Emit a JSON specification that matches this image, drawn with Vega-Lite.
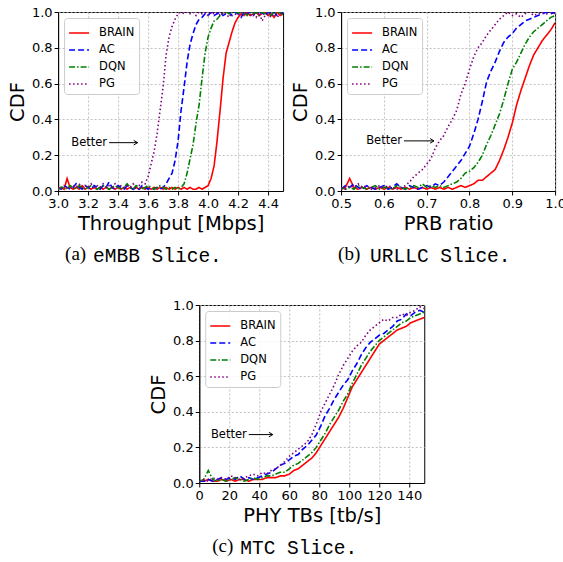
{
  "$schema": "https://vega.github.io/schema/vega-lite/v6.json",
  "background": "white",
  "padding": {"left": 6, "top": 5, "right": 0, "bottom": 0},
  "config": {
    "font": "DejaVu Sans",
    "view": {"stroke": "black", "strokeWidth": 1},
    "axis": {
      "labelFont": "DejaVu Sans", "labelFontSize": 13, "labelColor": "black",
      "titleFont": "DejaVu Sans", "titleFontSize": 19.5, "titleFontWeight": "normal", "titleColor": "black",
      "tickColor": "black", "tickSize": 4, "domainColor": "black",
      "gridColor": "#b0b0b0", "gridDash": [2, 2], "gridWidth": 0.8,
      "labelPadding": 2, "titlePadding": 4, "labelFlush": false, "labelOverlap": false, "tickCount": 30
    },
    "legend": {
      "orient": "top-left", "offset": 6, "title": null,
      "symbolType": "stroke", "symbolSize": 400, "symbolStrokeWidth": 1.6,
      "labelFont": "DejaVu Sans", "labelFontSize": 11.5, "labelColor": "black", "labelOffset": 9,
      "padding": 4, "rowPadding": 0, "strokeColor": "#cccccc", "cornerRadius": 3,
      "fillColor": "rgba(255,255,255,0.85)"
    },
    "title": {"color": "black", "fontWeight": "normal"}
  },
  "datasets": {
    "a": [
      {"x":3.00,"BRAIN":0.01,"AC":0.02,"DQN":0.01,"PG":0.02},
      {"x":3.02,"BRAIN":0.02,"AC":0.01,"DQN":0.02,"PG":0.01},
      {"x":3.04,"BRAIN":0.01,"AC":0.03,"DQN":0.02,"PG":0.03},
      {"x":3.06,"BRAIN":0.07,"AC":0.02,"DQN":0.01,"PG":0.02},
      {"x":3.08,"BRAIN":0.02,"AC":0.01,"DQN":0.03,"PG":0.01},
      {"x":3.10,"BRAIN":0.01,"AC":0.02,"DQN":0.02,"PG":0.03},
      {"x":3.12,"BRAIN":0.02,"AC":0.04,"DQN":0.01,"PG":0.02},
      {"x":3.14,"BRAIN":0.01,"AC":0.02,"DQN":0.03,"PG":0.04},
      {"x":3.16,"BRAIN":0.03,"AC":0.01,"DQN":0.02,"PG":0.02},
      {"x":3.18,"BRAIN":0.01,"AC":0.03,"DQN":0.01,"PG":0.03},
      {"x":3.20,"BRAIN":0.02,"AC":0.02,"DQN":0.02,"PG":0.02},
      {"x":3.22,"BRAIN":0.01,"AC":0.01,"DQN":0.03,"PG":0.04},
      {"x":3.24,"BRAIN":0.02,"AC":0.03,"DQN":0.02,"PG":0.02},
      {"x":3.26,"BRAIN":0.01,"AC":0.02,"DQN":0.01,"PG":0.03},
      {"x":3.28,"BRAIN":0.02,"AC":0.01,"DQN":0.02,"PG":0.02},
      {"x":3.30,"BRAIN":0.01,"AC":0.03,"DQN":0.03,"PG":0.04},
      {"x":3.32,"BRAIN":0.02,"AC":0.02,"DQN":0.02,"PG":0.02},
      {"x":3.34,"BRAIN":0.01,"AC":0.05,"DQN":0.01,"PG":0.03},
      {"x":3.36,"BRAIN":0.02,"AC":0.02,"DQN":0.02,"PG":0.02},
      {"x":3.38,"BRAIN":0.01,"AC":0.01,"DQN":0.03,"PG":0.04},
      {"x":3.40,"BRAIN":0.02,"AC":0.03,"DQN":0.02,"PG":0.02},
      {"x":3.42,"BRAIN":0.01,"AC":0.02,"DQN":0.01,"PG":0.03},
      {"x":3.44,"BRAIN":0.02,"AC":0.01,"DQN":0.02,"PG":0.02},
      {"x":3.46,"BRAIN":0.01,"AC":0.03,"DQN":0.04,"PG":0.03},
      {"x":3.48,"BRAIN":0.02,"AC":0.02,"DQN":0.02,"PG":0.02},
      {"x":3.50,"BRAIN":0.01,"AC":0.01,"DQN":0.01,"PG":0.04},
      {"x":3.52,"BRAIN":0.02,"AC":0.02,"DQN":0.03,"PG":0.02},
      {"x":3.54,"BRAIN":0.01,"AC":0.01,"DQN":0.02,"PG":0.03},
      {"x":3.56,"BRAIN":0.02,"AC":0.03,"DQN":0.01,"PG":0.05},
      {"x":3.58,"BRAIN":0.01,"AC":0.02,"DQN":0.02,"PG":0.04},
      {"x":3.60,"BRAIN":0.02,"AC":0.01,"DQN":0.03,"PG":0.08},
      {"x":3.62,"BRAIN":0.01,"AC":0.02,"DQN":0.02,"PG":0.15},
      {"x":3.64,"BRAIN":0.02,"AC":0.01,"DQN":0.01,"PG":0.22},
      {"x":3.66,"BRAIN":0.01,"AC":0.02,"DQN":0.02,"PG":0.32},
      {"x":3.68,"BRAIN":0.02,"AC":0.01,"DQN":0.03,"PG":0.45},
      {"x":3.70,"BRAIN":0.01,"AC":0.02,"DQN":0.02,"PG":0.58},
      {"x":3.72,"BRAIN":0.02,"AC":0.04,"DQN":0.01,"PG":0.76},
      {"x":3.74,"BRAIN":0.01,"AC":0.07,"DQN":0.02,"PG":0.86},
      {"x":3.76,"BRAIN":0.02,"AC":0.10,"DQN":0.01,"PG":0.92},
      {"x":3.78,"BRAIN":0.01,"AC":0.17,"DQN":0.02,"PG":0.96},
      {"x":3.80,"BRAIN":0.02,"AC":0.28,"DQN":0.01,"PG":0.99},
      {"x":3.82,"BRAIN":0.01,"AC":0.45,"DQN":0.02,"PG":1.00},
      {"x":3.84,"BRAIN":0.02,"AC":0.58,"DQN":0.04,"PG":0.99},
      {"x":3.86,"BRAIN":0.01,"AC":0.72,"DQN":0.10,"PG":1.00},
      {"x":3.88,"BRAIN":0.02,"AC":0.82,"DQN":0.18,"PG":0.99},
      {"x":3.90,"BRAIN":0.01,"AC":0.88,"DQN":0.26,"PG":1.00},
      {"x":3.92,"BRAIN":0.01,"AC":0.93,"DQN":0.38,"PG":0.98},
      {"x":3.94,"BRAIN":0.02,"AC":0.96,"DQN":0.48,"PG":1.00},
      {"x":3.96,"BRAIN":0.01,"AC":0.97,"DQN":0.63,"PG":0.99},
      {"x":3.98,"BRAIN":0.02,"AC":0.99,"DQN":0.77,"PG":1.00},
      {"x":4.00,"BRAIN":0.03,"AC":0.98,"DQN":0.86,"PG":0.98},
      {"x":4.02,"BRAIN":0.07,"AC":1.00,"DQN":0.91,"PG":1.00},
      {"x":4.04,"BRAIN":0.14,"AC":0.98,"DQN":0.95,"PG":0.99},
      {"x":4.06,"BRAIN":0.28,"AC":0.99,"DQN":0.96,"PG":1.00},
      {"x":4.08,"BRAIN":0.45,"AC":1.00,"DQN":0.98,"PG":0.98},
      {"x":4.10,"BRAIN":0.63,"AC":0.98,"DQN":0.99,"PG":1.00},
      {"x":4.12,"BRAIN":0.77,"AC":0.99,"DQN":1.00,"PG":0.99},
      {"x":4.14,"BRAIN":0.83,"AC":1.00,"DQN":0.99,"PG":0.97},
      {"x":4.16,"BRAIN":0.89,"AC":0.98,"DQN":1.00,"PG":1.00},
      {"x":4.18,"BRAIN":0.94,"AC":1.00,"DQN":0.99,"PG":0.99},
      {"x":4.20,"BRAIN":0.97,"AC":0.99,"DQN":1.00,"PG":0.98},
      {"x":4.22,"BRAIN":0.99,"AC":0.97,"DQN":0.99,"PG":1.00},
      {"x":4.24,"BRAIN":0.98,"AC":1.00,"DQN":1.00,"PG":0.99},
      {"x":4.26,"BRAIN":1.00,"AC":0.99,"DQN":0.98,"PG":1.00},
      {"x":4.28,"BRAIN":0.98,"AC":1.00,"DQN":1.00,"PG":0.98},
      {"x":4.30,"BRAIN":0.99,"AC":0.98,"DQN":0.99,"PG":0.99},
      {"x":4.32,"BRAIN":1.00,"AC":1.00,"DQN":1.00,"PG":0.97},
      {"x":4.34,"BRAIN":0.98,"AC":0.99,"DQN":0.98,"PG":1.00},
      {"x":4.36,"BRAIN":0.99,"AC":1.00,"DQN":1.00,"PG":0.95},
      {"x":4.38,"BRAIN":1.00,"AC":0.98,"DQN":0.99,"PG":0.98},
      {"x":4.40,"BRAIN":0.98,"AC":1.00,"DQN":1.00,"PG":0.99},
      {"x":4.42,"BRAIN":0.99,"AC":0.99,"DQN":0.98,"PG":0.97},
      {"x":4.44,"BRAIN":0.97,"AC":1.00,"DQN":1.00,"PG":0.99},
      {"x":4.46,"BRAIN":1.00,"AC":0.98,"DQN":0.99,"PG":0.97},
      {"x":4.48,"BRAIN":0.98,"AC":1.00,"DQN":1.00,"PG":0.99},
      {"x":4.50,"BRAIN":0.99,"AC":0.99,"DQN":0.98,"PG":1.00}
    ],
    "b": [
      {"x":0.50,"BRAIN":0.01,"AC":0.01,"DQN":0.02,"PG":0.02},
      {"x":0.51,"BRAIN":0.02,"AC":0.03,"DQN":0.01,"PG":0.01},
      {"x":0.52,"BRAIN":0.07,"AC":0.02,"DQN":0.02,"PG":0.03},
      {"x":0.53,"BRAIN":0.02,"AC":0.04,"DQN":0.01,"PG":0.02},
      {"x":0.54,"BRAIN":0.01,"AC":0.02,"DQN":0.03,"PG":0.04},
      {"x":0.55,"BRAIN":0.02,"AC":0.01,"DQN":0.02,"PG":0.02},
      {"x":0.56,"BRAIN":0.01,"AC":0.03,"DQN":0.01,"PG":0.03},
      {"x":0.57,"BRAIN":0.02,"AC":0.02,"DQN":0.02,"PG":0.01},
      {"x":0.58,"BRAIN":0.01,"AC":0.01,"DQN":0.03,"PG":0.02},
      {"x":0.59,"BRAIN":0.02,"AC":0.02,"DQN":0.01,"PG":0.03},
      {"x":0.60,"BRAIN":0.01,"AC":0.03,"DQN":0.02,"PG":0.02},
      {"x":0.61,"BRAIN":0.02,"AC":0.01,"DQN":0.02,"PG":0.03},
      {"x":0.62,"BRAIN":0.01,"AC":0.02,"DQN":0.01,"PG":0.02},
      {"x":0.63,"BRAIN":0.02,"AC":0.04,"DQN":0.03,"PG":0.01},
      {"x":0.64,"BRAIN":0.01,"AC":0.02,"DQN":0.02,"PG":0.02},
      {"x":0.65,"BRAIN":0.02,"AC":0.01,"DQN":0.01,"PG":0.03},
      {"x":0.66,"BRAIN":0.01,"AC":0.03,"DQN":0.02,"PG":0.05},
      {"x":0.67,"BRAIN":0.02,"AC":0.02,"DQN":0.03,"PG":0.08},
      {"x":0.68,"BRAIN":0.01,"AC":0.01,"DQN":0.02,"PG":0.10},
      {"x":0.69,"BRAIN":0.02,"AC":0.02,"DQN":0.04,"PG":0.12},
      {"x":0.70,"BRAIN":0.01,"AC":0.03,"DQN":0.02,"PG":0.15},
      {"x":0.71,"BRAIN":0.02,"AC":0.02,"DQN":0.03,"PG":0.18},
      {"x":0.72,"BRAIN":0.01,"AC":0.04,"DQN":0.02,"PG":0.24},
      {"x":0.73,"BRAIN":0.02,"AC":0.03,"DQN":0.03,"PG":0.28},
      {"x":0.74,"BRAIN":0.01,"AC":0.05,"DQN":0.02,"PG":0.31},
      {"x":0.75,"BRAIN":0.02,"AC":0.08,"DQN":0.03,"PG":0.36},
      {"x":0.76,"BRAIN":0.01,"AC":0.11,"DQN":0.04,"PG":0.40},
      {"x":0.77,"BRAIN":0.02,"AC":0.14,"DQN":0.05,"PG":0.45},
      {"x":0.78,"BRAIN":0.03,"AC":0.17,"DQN":0.07,"PG":0.54},
      {"x":0.79,"BRAIN":0.02,"AC":0.21,"DQN":0.10,"PG":0.60},
      {"x":0.80,"BRAIN":0.03,"AC":0.25,"DQN":0.11,"PG":0.68},
      {"x":0.81,"BRAIN":0.04,"AC":0.32,"DQN":0.13,"PG":0.75},
      {"x":0.82,"BRAIN":0.06,"AC":0.40,"DQN":0.16,"PG":0.80},
      {"x":0.83,"BRAIN":0.06,"AC":0.50,"DQN":0.20,"PG":0.83},
      {"x":0.84,"BRAIN":0.08,"AC":0.61,"DQN":0.26,"PG":0.87},
      {"x":0.85,"BRAIN":0.10,"AC":0.67,"DQN":0.31,"PG":0.90},
      {"x":0.86,"BRAIN":0.12,"AC":0.72,"DQN":0.37,"PG":0.93},
      {"x":0.87,"BRAIN":0.17,"AC":0.78,"DQN":0.43,"PG":0.96},
      {"x":0.88,"BRAIN":0.23,"AC":0.83,"DQN":0.51,"PG":0.98},
      {"x":0.89,"BRAIN":0.30,"AC":0.86,"DQN":0.60,"PG":1.00},
      {"x":0.90,"BRAIN":0.38,"AC":0.88,"DQN":0.68,"PG":0.98},
      {"x":0.91,"BRAIN":0.48,"AC":0.91,"DQN":0.72,"PG":0.99},
      {"x":0.92,"BRAIN":0.56,"AC":0.93,"DQN":0.77,"PG":0.97},
      {"x":0.93,"BRAIN":0.63,"AC":0.95,"DQN":0.82,"PG":0.99},
      {"x":0.94,"BRAIN":0.70,"AC":0.96,"DQN":0.86,"PG":1.00},
      {"x":0.95,"BRAIN":0.76,"AC":0.97,"DQN":0.89,"PG":0.98},
      {"x":0.96,"BRAIN":0.80,"AC":0.98,"DQN":0.91,"PG":0.99},
      {"x":0.97,"BRAIN":0.84,"AC":0.99,"DQN":0.93,"PG":1.00},
      {"x":0.98,"BRAIN":0.87,"AC":1.00,"DQN":0.95,"PG":0.99},
      {"x":0.99,"BRAIN":0.90,"AC":0.99,"DQN":0.97,"PG":1.00},
      {"x":1.00,"BRAIN":0.94,"AC":1.00,"DQN":0.98,"PG":0.99}
    ],
    "c": [
      {"x":0,"BRAIN":0.01,"AC":0.01,"DQN":0.01,"PG":0.01},
      {"x":3,"BRAIN":0.01,"AC":0.01,"DQN":0.02,"PG":0.02},
      {"x":6,"BRAIN":0.02,"AC":0.02,"DQN":0.07,"PG":0.01},
      {"x":9,"BRAIN":0.01,"AC":0.01,"DQN":0.02,"PG":0.03},
      {"x":12,"BRAIN":0.01,"AC":0.02,"DQN":0.01,"PG":0.02},
      {"x":15,"BRAIN":0.02,"AC":0.03,"DQN":0.02,"PG":0.03},
      {"x":18,"BRAIN":0.01,"AC":0.02,"DQN":0.01,"PG":0.02},
      {"x":21,"BRAIN":0.02,"AC":0.03,"DQN":0.02,"PG":0.04},
      {"x":24,"BRAIN":0.01,"AC":0.02,"DQN":0.03,"PG":0.03},
      {"x":27,"BRAIN":0.02,"AC":0.04,"DQN":0.02,"PG":0.02},
      {"x":30,"BRAIN":0.02,"AC":0.02,"DQN":0.01,"PG":0.03},
      {"x":33,"BRAIN":0.01,"AC":0.03,"DQN":0.02,"PG":0.04},
      {"x":36,"BRAIN":0.02,"AC":0.02,"DQN":0.03,"PG":0.05},
      {"x":39,"BRAIN":0.02,"AC":0.03,"DQN":0.02,"PG":0.04},
      {"x":42,"BRAIN":0.02,"AC":0.04,"DQN":0.03,"PG":0.06},
      {"x":45,"BRAIN":0.03,"AC":0.05,"DQN":0.04,"PG":0.05},
      {"x":48,"BRAIN":0.03,"AC":0.06,"DQN":0.04,"PG":0.07},
      {"x":51,"BRAIN":0.03,"AC":0.08,"DQN":0.05,"PG":0.08},
      {"x":54,"BRAIN":0.04,"AC":0.10,"DQN":0.06,"PG":0.10},
      {"x":57,"BRAIN":0.04,"AC":0.11,"DQN":0.06,"PG":0.12},
      {"x":60,"BRAIN":0.05,"AC":0.13,"DQN":0.08,"PG":0.15},
      {"x":63,"BRAIN":0.07,"AC":0.15,"DQN":0.10,"PG":0.17},
      {"x":66,"BRAIN":0.08,"AC":0.16,"DQN":0.11,"PG":0.19},
      {"x":69,"BRAIN":0.10,"AC":0.19,"DQN":0.13,"PG":0.21},
      {"x":72,"BRAIN":0.12,"AC":0.21,"DQN":0.15,"PG":0.23},
      {"x":75,"BRAIN":0.14,"AC":0.24,"DQN":0.17,"PG":0.27},
      {"x":78,"BRAIN":0.17,"AC":0.27,"DQN":0.20,"PG":0.33},
      {"x":81,"BRAIN":0.21,"AC":0.32,"DQN":0.24,"PG":0.40},
      {"x":84,"BRAIN":0.25,"AC":0.38,"DQN":0.28,"PG":0.45},
      {"x":87,"BRAIN":0.29,"AC":0.42,"DQN":0.33,"PG":0.50},
      {"x":90,"BRAIN":0.33,"AC":0.47,"DQN":0.37,"PG":0.55},
      {"x":93,"BRAIN":0.37,"AC":0.51,"DQN":0.41,"PG":0.61},
      {"x":96,"BRAIN":0.42,"AC":0.55,"DQN":0.46,"PG":0.66},
      {"x":99,"BRAIN":0.48,"AC":0.58,"DQN":0.50,"PG":0.70},
      {"x":102,"BRAIN":0.54,"AC":0.63,"DQN":0.56,"PG":0.74},
      {"x":105,"BRAIN":0.58,"AC":0.67,"DQN":0.61,"PG":0.77},
      {"x":108,"BRAIN":0.62,"AC":0.72,"DQN":0.66,"PG":0.79},
      {"x":111,"BRAIN":0.66,"AC":0.76,"DQN":0.70,"PG":0.83},
      {"x":114,"BRAIN":0.70,"AC":0.79,"DQN":0.74,"PG":0.86},
      {"x":117,"BRAIN":0.74,"AC":0.81,"DQN":0.77,"PG":0.88},
      {"x":120,"BRAIN":0.78,"AC":0.83,"DQN":0.80,"PG":0.90},
      {"x":123,"BRAIN":0.80,"AC":0.84,"DQN":0.82,"PG":0.92},
      {"x":126,"BRAIN":0.82,"AC":0.86,"DQN":0.84,"PG":0.91},
      {"x":129,"BRAIN":0.84,"AC":0.88,"DQN":0.86,"PG":0.93},
      {"x":132,"BRAIN":0.86,"AC":0.91,"DQN":0.88,"PG":0.93},
      {"x":135,"BRAIN":0.87,"AC":0.92,"DQN":0.90,"PG":0.95},
      {"x":138,"BRAIN":0.88,"AC":0.95,"DQN":0.91,"PG":0.94},
      {"x":141,"BRAIN":0.90,"AC":0.94,"DQN":0.93,"PG":0.96},
      {"x":144,"BRAIN":0.91,"AC":0.96,"DQN":0.94,"PG":0.97},
      {"x":147,"BRAIN":0.92,"AC":0.97,"DQN":0.95,"PG":0.99},
      {"x":150,"BRAIN":0.93,"AC":0.96,"DQN":0.96,"PG":0.98}
    ]
  },
  "vconcat": [
    {
      "hconcat": [
        {
          "vconcat": [
            {
              "width": 225, "height": 179,
              "title": {"text": "(a)", "orient": "bottom", "font": "Liberation Serif", "fontSize": 19, "anchor": "start", "frame": "group", "dx": 7, "offset": 12},
              "layer": [
                {
                  "data": {"name": "a"},
                  "transform": [{"fold": ["BRAIN", "AC", "DQN", "PG"], "as": ["s", "y"]}],
                  "mark": {"type": "line", "strokeWidth": 1.6, "clip": true},
                  "encoding": {
                    "x": {"field": "x", "type": "quantitative", "scale": {"domain": [3.0, 4.5], "nice": false, "zero": false},
                          "axis": {"values": [3.0, 3.2, 3.4, 3.6, 3.8, 4.0, 4.2, 4.4], "tickCount": 30, "format": ".1f", "title": "Throughput [Mbps]"}},
                    "y": {"field": "y", "type": "quantitative", "scale": {"domain": [0, 1], "nice": false},
                          "axis": {"values": [0, 0.2, 0.4, 0.6, 0.8, 1.0], "tickCount": 30, "format": ".1f", "title": "CDF"}},
                    "color": {"field": "s", "type": "nominal", "sort": null,
                              "scale": {"domain": ["BRAIN", "AC", "DQN", "PG"], "range": ["#ff0000", "#0000ff", "#008000", "#800080"]}},
                    "strokeDash": {"field": "s", "type": "nominal", "sort": null,
                                   "scale": {"domain": ["BRAIN", "AC", "DQN", "PG"], "range": [[1, 0], [6, 3], [6, 2, 1.5, 2], [1.5, 2.5]]}}
                  }
                },
                {
                  "data": {"values": [{"x0": 3.34, "x1": 3.53, "y": 0.27, "label": "Better"}]},
                  "layer": [
                    {"mark": {"type": "rule", "color": "black", "strokeWidth": 1},
                     "encoding": {"x": {"field": "x0", "type": "quantitative"}, "x2": {"field": "x1"}, "y": {"field": "y", "type": "quantitative"}}},
                    {"mark": {"type": "point", "shape": "M -1 -0.6 L 0 0 L -1 0.6", "filled": false, "color": "black", "strokeWidth": 1, "size": 60, "opacity": 1},
                     "encoding": {"x": {"field": "x1", "type": "quantitative"}, "y": {"field": "y", "type": "quantitative"}}},
                    {"mark": {"type": "text", "align": "right", "baseline": "middle", "dx": -2, "fontSize": 11.5, "font": "DejaVu Sans", "color": "black"},
                     "encoding": {"x": {"field": "x0", "type": "quantitative"}, "y": {"field": "y", "type": "quantitative"}, "text": {"field": "label"}}}
                  ]
                }
              ]
            }
          ],
          "title": {"text": "eMBB Slice.", "orient": "bottom", "font": "Liberation Mono", "fontSize": 19.5, "anchor": "start", "frame": "group", "dx": 35, "dy": -21}
        },
        {
          "vconcat": [
            {
              "width": 214, "height": 179,
              "title": {"text": "(b)", "orient": "bottom", "font": "Liberation Serif", "fontSize": 19, "anchor": "start", "frame": "group", "dx": -3, "offset": 12},
              "layer": [
                {
                  "data": {"name": "b"},
                  "transform": [{"fold": ["BRAIN", "AC", "DQN", "PG"], "as": ["s", "y"]}],
                  "mark": {"type": "line", "strokeWidth": 1.6, "clip": true},
                  "encoding": {
                    "x": {"field": "x", "type": "quantitative", "scale": {"domain": [0.5, 1.0], "nice": false, "zero": false},
                          "axis": {"values": [0.5, 0.6, 0.7, 0.8, 0.9, 1.0], "tickCount": 30, "format": ".1f", "title": "PRB ratio"}},
                    "y": {"field": "y", "type": "quantitative", "scale": {"domain": [0, 1], "nice": false},
                          "axis": {"values": [0, 0.2, 0.4, 0.6, 0.8, 1.0], "tickCount": 30, "format": ".1f", "title": "CDF"}},
                    "color": {"field": "s", "type": "nominal", "sort": null,
                              "scale": {"domain": ["BRAIN", "AC", "DQN", "PG"], "range": ["#ff0000", "#0000ff", "#008000", "#800080"]}},
                    "strokeDash": {"field": "s", "type": "nominal", "sort": null,
                                   "scale": {"domain": ["BRAIN", "AC", "DQN", "PG"], "range": [[1, 0], [6, 3], [6, 2, 1.5, 2], [1.5, 2.5]]}}
                  }
                },
                {
                  "data": {"values": [{"x0": 0.647, "x1": 0.717, "y": 0.28, "label": "Better"}]},
                  "layer": [
                    {"mark": {"type": "rule", "color": "black", "strokeWidth": 1},
                     "encoding": {"x": {"field": "x0", "type": "quantitative"}, "x2": {"field": "x1"}, "y": {"field": "y", "type": "quantitative"}}},
                    {"mark": {"type": "point", "shape": "M -1 -0.6 L 0 0 L -1 0.6", "filled": false, "color": "black", "strokeWidth": 1, "size": 60, "opacity": 1},
                     "encoding": {"x": {"field": "x1", "type": "quantitative"}, "y": {"field": "y", "type": "quantitative"}}},
                    {"mark": {"type": "text", "align": "right", "baseline": "middle", "dx": -2, "fontSize": 11.5, "font": "DejaVu Sans", "color": "black"},
                     "encoding": {"x": {"field": "x0", "type": "quantitative"}, "y": {"field": "y", "type": "quantitative"}, "text": {"field": "label"}}}
                  ]
                }
              ]
            }
          ],
          "title": {"text": "URLLC Slice.", "orient": "bottom", "font": "Liberation Mono", "fontSize": 19.5, "anchor": "start", "frame": "group", "dx": 29, "dy": -21}
        }
      ],
      "spacing": 5,
      "resolve": {"scale": {"color": "independent", "strokeDash": "independent"}, "legend": {"color": "independent", "strokeDash": "independent"}}
    },
    {
      "vconcat": [
        {
          "width": 225, "height": 178,
          "title": {"text": "(c)", "orient": "bottom", "font": "Liberation Serif", "fontSize": 19, "anchor": "start", "frame": "group", "dx": 13, "offset": 12},
          "layer": [
            {
              "data": {"name": "c"},
              "transform": [{"fold": ["BRAIN", "AC", "DQN", "PG"], "as": ["s", "y"]}],
              "mark": {"type": "line", "strokeWidth": 1.6, "clip": true},
              "encoding": {
                "x": {"field": "x", "type": "quantitative", "scale": {"domain": [0, 150], "nice": false},
                      "axis": {"values": [0, 20, 40, 60, 80, 100, 120, 140], "tickCount": 30, "title": "PHY TBs [tb/s]"}},
                "y": {"field": "y", "type": "quantitative", "scale": {"domain": [0, 1], "nice": false},
                      "axis": {"values": [0, 0.2, 0.4, 0.6, 0.8, 1.0], "tickCount": 30, "format": ".1f", "title": "CDF"}},
                "color": {"field": "s", "type": "nominal", "sort": null,
                          "scale": {"domain": ["BRAIN", "AC", "DQN", "PG"], "range": ["#ff0000", "#0000ff", "#008000", "#800080"]}},
                "strokeDash": {"field": "s", "type": "nominal", "sort": null,
                               "scale": {"domain": ["BRAIN", "AC", "DQN", "PG"], "range": [[1, 0], [6, 3], [6, 2, 1.5, 2], [1.5, 2.5]]}}
              }
            },
            {
              "data": {"values": [{"x0": 33, "x1": 49, "y": 0.272, "label": "Better"}]},
              "layer": [
                {"mark": {"type": "rule", "color": "black", "strokeWidth": 1},
                 "encoding": {"x": {"field": "x0", "type": "quantitative"}, "x2": {"field": "x1"}, "y": {"field": "y", "type": "quantitative"}}},
                {"mark": {"type": "point", "shape": "M -1 -0.6 L 0 0 L -1 0.6", "filled": false, "color": "black", "strokeWidth": 1, "size": 60, "opacity": 1},
                 "encoding": {"x": {"field": "x1", "type": "quantitative"}, "y": {"field": "y", "type": "quantitative"}}},
                {"mark": {"type": "text", "align": "right", "baseline": "middle", "dx": -2, "fontSize": 11.5, "font": "DejaVu Sans", "color": "black"},
                 "encoding": {"x": {"field": "x0", "type": "quantitative"}, "y": {"field": "y", "type": "quantitative"}, "text": {"field": "label"}}}
              ]
            }
          ]
        }
      ],
      "title": {"text": "MTC Slice.", "orient": "bottom", "font": "Liberation Mono", "fontSize": 19.5, "anchor": "start", "frame": "group", "dx": 41, "dy": -21}
    }
  ],
  "spacing": 32,
  "center": true,
  "resolve": {"scale": {"color": "independent", "strokeDash": "independent"}, "legend": {"color": "independent", "strokeDash": "independent"}}
}
